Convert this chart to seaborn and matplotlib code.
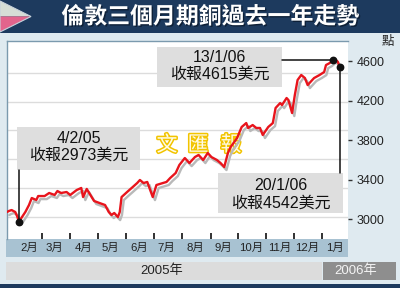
import matplotlib
matplotlib.use("Agg")
import matplotlib.pyplot as plt
import matplotlib.patheffects as pe
import matplotlib.dates as mdates
from matplotlib.patches import Rectangle, Polygon
from matplotlib.lines import Line2D
import seaborn as sns
import pandas as pd

# ---------------- data ----------------
dates = ["2005-01-22", "2005-01-24", "2005-01-27", "2005-01-31", "2005-02-02", "2005-02-04",
         "2005-02-11", "2005-02-15", "2005-02-18", "2005-02-23", "2005-02-25", "2005-03-04",
         "2005-03-09", "2005-03-15", "2005-03-18", "2005-03-22", "2005-03-28", "2005-04-01",
         "2005-04-08", "2005-04-13", "2005-04-15", "2005-04-19", "2005-04-25", "2005-04-27",
         "2005-05-03", "2005-05-09", "2005-05-13", "2005-05-16", "2005-05-19", "2005-05-23",
         "2005-05-25", "2005-05-27", "2005-06-02", "2005-06-07", "2005-06-13", "2005-06-16",
         "2005-06-20", "2005-06-24", "2005-06-30", "2005-07-04", "2005-07-11", "2005-07-15",
         "2005-07-19", "2005-07-25", "2005-07-29", "2005-08-04", "2005-08-09", "2005-08-15",
         "2005-08-19", "2005-08-24", "2005-08-29", "2005-09-02", "2005-09-08", "2005-09-12",
         "2005-09-16", "2005-09-20", "2005-09-23", "2005-09-30", "2005-10-05", "2005-10-10",
         "2005-10-12", "2005-10-17", "2005-10-21", "2005-10-25", "2005-10-28", "2005-11-03",
         "2005-11-08", "2005-11-11", "2005-11-16", "2005-11-18", "2005-11-23", "2005-11-25",
         "2005-11-29", "2005-12-02", "2005-12-05", "2005-12-09", "2005-12-13", "2005-12-16",
         "2005-12-21", "2005-12-23", "2005-12-29", "2006-01-03", "2006-01-05", "2006-01-09",
         "2006-01-13", "2006-01-17", "2006-01-18", "2006-01-20"]
prices = [3071, 3081, 3091, 3071, 3030, 2973,
          3071, 3142, 3213, 3193, 3233, 3233,
          3264, 3244, 3284, 3264, 3274, 3244,
          3294, 3315, 3223, 3305, 3213, 3183,
          3162, 3142, 3071, 3041, 3061, 3020,
          3071, 3223, 3274, 3315, 3365, 3396,
          3365, 3376, 3223, 3345, 3365, 3376,
          3416, 3467, 3548, 3619, 3568, 3629,
          3650, 3599, 3670, 3629, 3599, 3568,
          3528, 3670, 3731, 3822, 3934, 3974,
          3924, 3954, 3924, 3924, 3853, 3934,
          3974, 4127, 4177, 4157, 4228, 4208,
          4076, 4259, 4411, 4462, 4431, 4360,
          4411, 4431, 4462, 4492, 4563, 4583,
          4615, 4605, 4594, 4542]

title = "倫敦三個月期銅過去一年走勢"
month_labels = ["2月", "3月", "4月", "5月", "6月", "7月", "8月", "9月", "10月", "11月", "12月", "1月"]
year_labels = ["2005年", "2006年"]
unit_label = "點"
ytick_values = [3000, 3400, 3800, 4200, 4600]
grid_values = [3020, 3315, 3610, 3905, 4190, 4480]
watermark = ["文", "匯", "報"]

ann_dates = ["2005-02-04", "2006-01-13", "2006-01-20"]
ann_values = [2973, 4615, 4542]
ann_line1 = ["4/2/05", "13/1/06", "20/1/06"]
ann_line2 = ["收報2973美元", "收報4615美元", "收報4542美元"]

# ---------------- style ----------------
sns.set_theme(style="white")
FAM = ["Liberation Sans", "Noto Sans CJK TC", "DejaVu Sans"]
plt.rcParams["font.family"] = FAM

W, H = 400, 288
fig = plt.figure(figsize=(W / 100, H / 100), dpi=100)
fig.patch.set_facecolor("#dfeaf0")


def fx(x):
    return x / W


def fy(y):
    return 1 - y / H


def frect(x0, y0, x1, y1, color, z=1):
    fig.add_artist(Rectangle((fx(x0), fy(y1)), (x1 - x0) / W, (y1 - y0) / H,
                             transform=fig.transFigure, facecolor=color,
                             edgecolor="none", zorder=z))


NAVY = "#1d3a5e"
# title bar
frect(0, 0, 400, 33, NAVY)
fig.add_artist(Polygon([(fx(0), fy(1)), (fx(31), fy(16.5)), (fx(0), fy(16.5))],
                       closed=True, transform=fig.transFigure,
                       facecolor="#d6ded6", edgecolor="none", zorder=2))
fig.add_artist(Polygon([(fx(0), fy(16.5)), (fx(31), fy(16.5)), (fx(0), fy(32))],
                       closed=True, transform=fig.transFigure,
                       facecolor="#e2648c", edgecolor="none", zorder=2))
fig.add_artist(Polygon([(fx(0), fy(1)), (fx(31), fy(16.5)), (fx(0), fy(32))],
                       closed=True, transform=fig.transFigure,
                       facecolor="none", edgecolor="#c9d3dc", lw=0.8, zorder=3))
fig.text(fx(210), fy(17), title, color="white", fontsize=16.5, fontweight="bold",
         ha="center", va="center", family=["Noto Sans CJK TC"],
         path_effects=[pe.withSimplePatchShadow(offset=(1, -1), shadow_rgbFace="#0b1a2e", alpha=0.8)])

# bottom bands (behind the axes so month labels drawn by the axes stay visible)
frect(6, 239, 348, 257, "#a8c2d2", z=-2)
frect(6, 262, 322, 280, "#dcdcdc", z=-2)
frect(323, 262, 396, 280, "#8e8e8e", z=-2)
frect(0, 284, 400, 288, NAVY, z=-2)
fig.text(fx(162), fy(271), year_labels[0], fontsize=9.5, color="#222222",
         ha="center", va="center")
fig.text(fx(356), fy(271), year_labels[1], fontsize=9.5, color="#f4f4f4",
         ha="center", va="center")
fig.text(fx(388), fy(42), unit_label, fontsize=9, color="#222222",
         ha="center", va="center", family=["Noto Sans CJK TC"])

# ---------------- axes ----------------
ax = fig.add_axes([fx(7), 1 - 239 / H, (348 - 7) / W, (239 - 41) / H])
ax.set_facecolor("white")

df = pd.DataFrame({"date": pd.to_datetime(dates), "price": prices})
for g in grid_values:
    ax.axhline(g, color="#dcdcdc", lw=1.0, zorder=1)

sns.lineplot(data=df, x="date", y="price", ax=ax, color="#e8141c", lw=1.7, zorder=3,
             path_effects=[pe.SimpleLineShadow(offset=(1.6, -2.2), shadow_color="#b9b9b9", alpha=1),
                           pe.Normal()])

ax.set_xlim(pd.Timestamp("2005-01-22"), pd.Timestamp("2006-01-29"))
ax.set_ylim(2797, 4807)
ax.set_xlabel("")
ax.set_ylabel("")

for side in ["right", "bottom"]:
    ax.spines[side].set_visible(False)
for side in ["left", "top"]:
    ax.spines[side].set_visible(True)
    ax.spines[side].set_color("#7b9aae")
    ax.spines[side].set_linewidth(1.0)

month_starts = pd.date_range("2005-03-01", "2006-01-01", freq="MS")
ax.set_xticks(month_starts)
ax.tick_params(axis="x", which="both", direction="in", length=4.5, width=1.3,
               color="#222222", bottom=True, top=False, labelbottom=False)
ax.set_yticks(ytick_values)
ax.set_yticklabels([str(v) for v in ytick_values])
ax.yaxis.tick_right()
ax.tick_params(axis="y", which="both", direction="out", length=3, width=1,
               color="#333333", labelsize=9, pad=3, labelcolor="#222222",
               left=False, right=True, labelleft=False, labelright=True)
ax.grid(False)

mid_months = pd.date_range("2005-02-01", periods=12, freq="MS") + pd.Timedelta(days=14)
trans = ax.get_xaxis_transform()
for d, lab in zip(mid_months, month_labels):
    ax.text(d, -9 / 198, lab, transform=trans, ha="center", va="center",
            fontsize=8.2, color="#222222", clip_on=False)

# watermark
for x, ch in zip([167, 198, 231], watermark):
    ax.text(fx(x), fy(145), ch, transform=fig.transFigure, ha="center", va="center",
            fontsize=15, color="#fffbe6", zorder=2, family=["Noto Sans CJK TC"],
            path_effects=[pe.Stroke(linewidth=2.2, foreground="#f2c400"), pe.Normal()])

# ---------------- annotations ----------------
boxes = [(17, 127, 140, 170), (157, 47, 282, 87), (218, 173, 343, 213)]
line_y = [(138, 155), (57, 74), (185, 203)]
fig.canvas.draw()
inv = fig.transFigure.inverted()
for i, (d, v) in enumerate(zip(ann_dates, ann_values)):
    x0, y0, x1, y1 = boxes[i]
    frect(x0, y0, x1, y1, "#dedede", z=2)
    cx = (x0 + x1) / 2
    fig.text(fx(cx), fy(line_y[i][0]), ann_line1[i], fontsize=11.5, color="#111111",
             ha="center", va="center", zorder=4)
    fig.text(fx(cx), fy(line_y[i][1]), ann_line2[i], fontsize=11.5, color="#111111",
             ha="center", va="center", zorder=4)
    px, py = ax.transData.transform((mdates.date2num(pd.Timestamp(d)), v))
    fpx, fpy = inv.transform((px, py))
    if i == 0:
        pts = [(fpx, fpy), (fpx, fy(y1))]
    elif i == 1:
        pts = [(fx(x1), fpy), (fpx, fpy)]
    else:
        pts = [(fpx, fpy), (fpx, fy(y0))]
    fig.add_artist(Line2D([p[0] for p in pts], [p[1] for p in pts], transform=fig.transFigure,
                          color="#111111", lw=1.1, zorder=5))
    fig.add_artist(Line2D([fpx], [fpy], transform=fig.transFigure, marker="o",
                          markersize=4.6, color="#111111", lw=0, zorder=6))

fig.savefig("out.png", dpi=100, facecolor=fig.get_facecolor())
